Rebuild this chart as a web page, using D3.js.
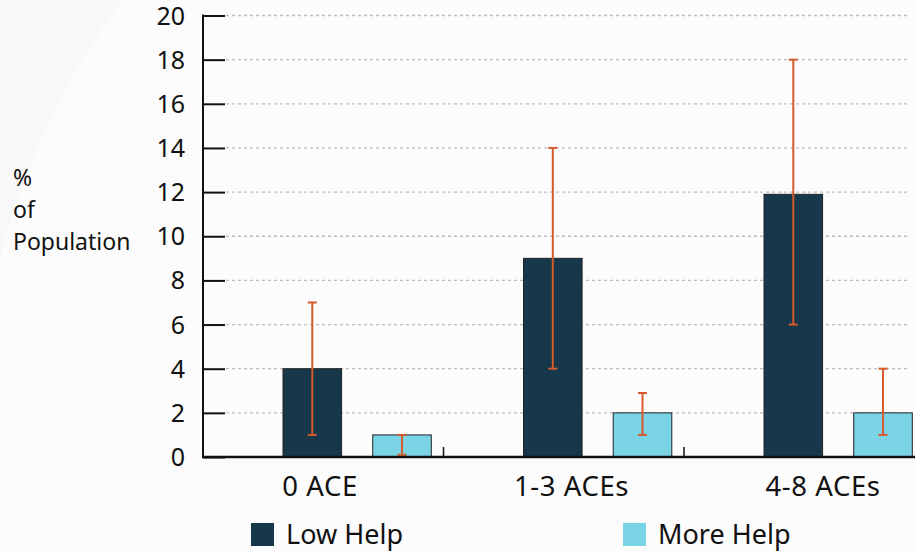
<!DOCTYPE html>
<html>
<head>
<meta charset="utf-8">
<script src="https://cdn.jsdelivr.net/npm/d3@7"></script>
<style>
  html, body { margin: 0; padding: 0; background: #f8f8f8; }
  svg { display: block; font-family: "Noto Sans", "Open Sans", sans-serif; }
</style>
</head>
<body>
<svg id="chart" width="915" height="551"></svg>
<script>
// ACE groups and help level series
const categories = ["0 ACE", "1-3 ACEs", "4-8 ACEs"];
const seriesNames = ["Low Help", "More Help"];
const lowHelp = [4, 9, 11.9];
const moreHelp = [1, 2, 2];
// error bar ranges (low, high) per series
const lowHelpErrLow = [1, 4, 6];
const lowHelpErrHigh = [7, 14, 18];
const moreHelpErrLow = [0.1, 1, 1];
const moreHelpErrHigh = [1, 2.9, 4];
const yTicks = [0, 2, 4, 6, 8, 10, 12, 14, 16, 18, 20];

(function () {
  const colors = { "Low Help": "#17374b", "More Help": "#7bd3e6" };
  const errColor = "#d55a2c";

  const svg = d3.select("#chart");
  const W = 915, H = 551;

  // soft background shape
  svg.append("rect").attr("width", W).attr("height", H).attr("fill", "#f8f8f8");
  svg.append("circle").attr("cx", 700).attr("cy", 430).attr("r", 720).attr("fill", "#fcfcfc");

  const plotLeft = 203, plotBottom = 457, plotTop = 15.5;
  const step = 240.5;

  const y = d3.scaleLinear().domain([0, 20]).range([plotBottom, plotTop]);
  const x0 = d3.scaleBand().domain(categories).range([plotLeft, plotLeft + step * categories.length]).padding(0);
  const x1 = d3.scaleBand().domain(seriesNames).range([80, 228.3]).paddingInner(0.347).paddingOuter(0);
  const labelX = d3.scalePoint().domain(categories).range([320, 823]);

  const rows = categories.map((c, i) => ({
    cat: c,
    values: [
      { s: "Low Help", v: lowHelp[i], lo: lowHelpErrLow[i], hi: lowHelpErrHigh[i] },
      { s: "More Help", v: moreHelp[i], lo: moreHelpErrLow[i], hi: moreHelpErrHigh[i] }
    ]
  }));

  // gridlines
  svg.append("g").selectAll("line").data(yTicks.filter(t => t > 0)).join("line")
    .attr("x1", plotLeft + 23).attr("x2", 910)
    .attr("y1", d => y(d)).attr("y2", d => y(d))
    .attr("stroke", "#bdbdbd").attr("stroke-width", 1.3).attr("stroke-dasharray", "3,3");

  // y axis with inward ticks
  const yAxis = d3.axisRight(y).tickValues(yTicks).tickSize(22).tickFormat("");
  const gy = svg.append("g").attr("transform", `translate(${plotLeft},0)`).call(yAxis);
  gy.select(".domain").remove();
  gy.selectAll(".tick line").attr("stroke", "#111").attr("stroke-width", 2);
  svg.append("line").attr("x1", plotLeft).attr("x2", plotLeft).attr("y1", plotTop - 1).attr("y2", plotBottom + 1)
    .attr("stroke", "#111").attr("stroke-width", 2);

  svg.append("g").selectAll("text").data(yTicks).join("text")
    .attr("x", 185).attr("y", d => y(d)).attr("dy", "0.36em")
    .attr("text-anchor", "end").attr("font-size", 25).attr("fill", "#111")
    .text(d => d);

  // bars
  const groups = svg.append("g").selectAll("g").data(rows).join("g")
    .attr("transform", d => `translate(${x0(d.cat)},0)`);

  groups.selectAll("rect").data(d => d.values).join("rect")
    .attr("x", d => x1(d.s)).attr("width", x1.bandwidth())
    .attr("y", d => y(d.v)).attr("height", d => y(0) - y(d.v))
    .attr("fill", d => colors[d.s]).attr("stroke", "#222").attr("stroke-width", 1);

  // error bars
  const eb = groups.selectAll("g.err").data(d => d.values).join("g").attr("class", "err")
    .attr("stroke", errColor).attr("stroke-width", 2);
  const cx = d => x1(d.s) + x1.bandwidth() / 2;
  eb.append("line").attr("x1", cx).attr("x2", cx).attr("y1", d => y(d.lo)).attr("y2", d => y(d.hi));
  eb.append("line").attr("x1", d => cx(d) - 4.5).attr("x2", d => cx(d) + 4.5).attr("y1", d => y(d.hi)).attr("y2", d => y(d.hi));
  eb.append("line").attr("x1", d => cx(d) - 4.5).attr("x2", d => cx(d) + 4.5).attr("y1", d => y(d.lo)).attr("y2", d => y(d.lo));

  // x axis
  svg.append("line").attr("x1", plotLeft - 1).attr("x2", W).attr("y1", plotBottom).attr("y2", plotBottom)
    .attr("stroke", "#111").attr("stroke-width", 2.5);
  svg.append("g").selectAll("line").data(categories.slice(1)).join("line")
    .attr("x1", d => x0(d)).attr("x2", d => x0(d))
    .attr("y1", plotBottom - 10).attr("y2", plotBottom)
    .attr("stroke", "#111").attr("stroke-width", 1.5);

  svg.append("g").selectAll("text").data(categories).join("text")
    .attr("x", d => labelX(d)).attr("y", 496)
    .attr("text-anchor", "middle").attr("font-size", 27.5).attr("fill", "#111")
    .attr("letter-spacing", 0.6)
    .text(d => d);

  // y axis title
  const title = svg.append("text").attr("font-size", 23).attr("fill", "#111");
  [["%", 186], ["of", 218], ["Population", 250]].forEach(([t, yy]) => {
    title.append("tspan").attr("x", 13).attr("y", yy).text(t);
  });

  // legend
  const legendX = [251, 623];
  const lg = svg.append("g").selectAll("g").data(seriesNames).join("g")
    .attr("transform", (d, i) => `translate(${legendX[i]},523)`);
  lg.append("rect").attr("width", 23).attr("height", 23).attr("fill", d => colors[d]);
  lg.append("text").attr("x", 35).attr("y", 21).attr("font-size", 27).attr("fill", "#111").text(d => d);
})();
</script>
</body>
</html>
